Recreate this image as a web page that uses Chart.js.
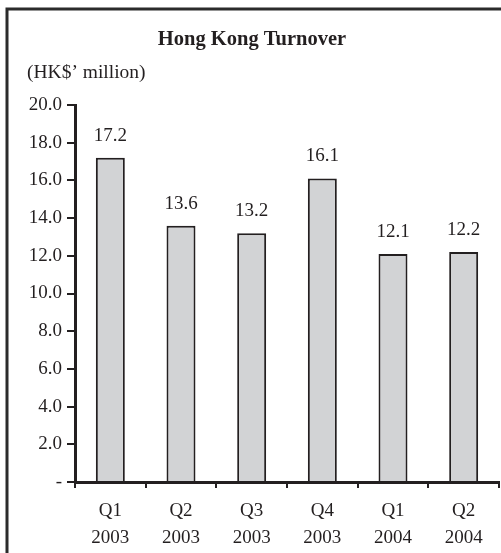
<!DOCTYPE html>
<html>
<head>
<meta charset="utf-8">
<script src="https://cdn.jsdelivr.net/npm/chart.js@4/dist/chart.umd.min.js"></script>
<style>
html,body{margin:0;padding:0;background:#fff;}
#wrap{position:relative;width:501px;height:553px;}
canvas{display:block;}
</style>
</head>
<body>
<div id="wrap"><canvas id="c" width="501" height="553"></canvas></div>
<script>
const quarters = [["Q1","2003"],["Q2","2003"],["Q3","2003"],["Q4","2003"],["Q1","2004"],["Q2","2004"]];
const turnover = [17.2, 13.6, 13.2, 16.1, 12.1, 12.2];
const titleText = "Hong Kong Turnover";
const unitText = "(HK$\u2019 million)";
const yTickValues = [0, 2, 4, 6, 8, 10, 12, 14, 16, 18, 20];

const FONT = "'Liberation Serif', 'Times New Roman', serif";
const INK = "#231f20";

const decor = {
  id: 'decor',
  beforeDraw(chart) {
    const ctx = chart.ctx;
    ctx.save();
    ctx.fillStyle = '#fff';
    ctx.fillRect(0, 0, chart.width, chart.height);
    ctx.strokeStyle = '#2b2b2b';
    ctx.lineWidth = 3;
    ctx.beginPath();
    ctx.moveTo(7, chart.height + 2);
    ctx.lineTo(7, 9);
    ctx.lineTo(chart.width + 2, 9);
    ctx.stroke();
    ctx.fillStyle = INK;
    ctx.textBaseline = 'middle';
    ctx.textAlign = 'center';
    ctx.font = "bold 20.5px " + FONT;
    ctx.fillText(titleText, 252, 40);
    ctx.textAlign = 'left';
    ctx.font = "19.5px " + FONT;
    ctx.fillText(unitText, 27, 73);
    ctx.restore();
  },
  afterDatasetsDraw(chart) {
    const ctx = chart.ctx;
    const meta = chart.getDatasetMeta(0);
    ctx.save();
    ctx.fillStyle = INK;
    ctx.font = "19px " + FONT;
    ctx.textAlign = 'center';
    ctx.textBaseline = 'middle';
    meta.data.forEach((bar, i) => {
      ctx.fillText(turnover[i].toFixed(1), bar.x, bar.y - 22);
    });
    ctx.restore();
  }
};

new Chart(document.getElementById('c'), {
  type: 'bar',
  data: {
    labels: quarters,
    datasets: [{
      data: turnover,
      backgroundColor: '#d2d3d5',
      borderColor: INK,
      borderWidth: 2,
      borderSkipped: 'bottom',
      categoryPercentage: 1,
      barPercentage: 0.41
    }]
  },
  options: {
    responsive: false,
    animation: false,
    devicePixelRatio: 1,
    layout: { padding: { top: 105, right: 2, left: 0, bottom: 0 } },
    plugins: { legend: { display: false }, title: { display: false }, tooltip: { enabled: false } },
    scales: {
      x: {
        offset: true,
        grid: { display: true, offset: true, drawOnChartArea: false, tickLength: 6, color: INK, lineWidth: 2 },
        border: { display: true, color: INK, width: 3 },
        ticks: { color: INK, font: { family: FONT, size: 19, lineHeight: 1.42 }, padding: 10, maxRotation: 0, autoSkip: false },
        afterFit(s) { s.height = 71; }
      },
      y: {
        min: 0, max: 20,
        afterBuildTicks(s) { s.ticks = yTickValues.map(v => ({ value: v })); },
        grid: { display: true, drawOnChartArea: false, tickLength: 8, color: INK, lineWidth: 2 },
        border: { display: true, color: INK, width: 3 },
        ticks: {
          color: INK, font: { family: FONT, size: 19 }, padding: 5,
          callback: v => v === 0 ? '-' : Number(v).toFixed(1)
        },
        afterFit(s) { s.width = 75; }
      }
    }
  },
  plugins: [decor]
});
</script>
</body>
</html>
